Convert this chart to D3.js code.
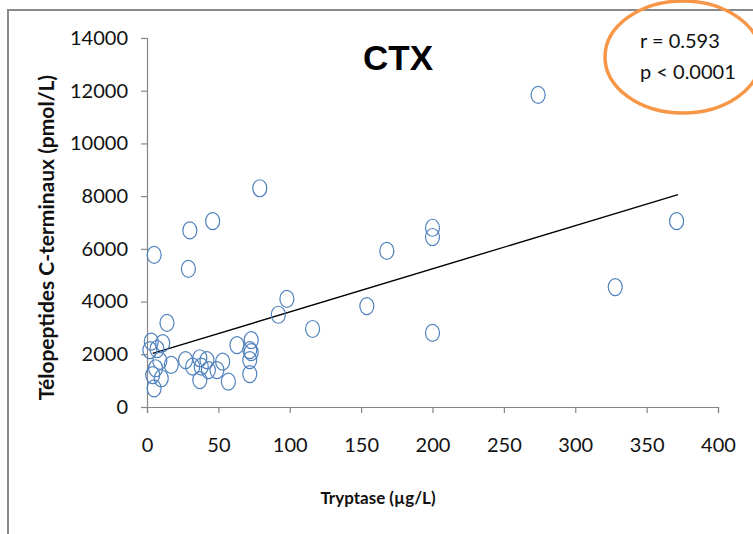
<!DOCTYPE html>
<html>
<head>
<meta charset="utf-8">
<script src="https://cdn.jsdelivr.net/npm/d3@7"></script>
<style>
  html, body { margin: 0; padding: 0; background: #fff; }
  svg { display: block; }
</style>
</head>
<body>
<svg id="chart" width="753" height="534"></svg>
<script>
// Tryptase (µg/L) vs C-terminal telopeptides (pmol/L)
const tryptase = [
  274, 79, 46, 30, 5, 29, 200, 200, 168, 371, 328, 98, 154, 200, 92, 116, 14,
  3, 11, 2, 7, 9, 17, 4, 10, 5, 6,
  27, 32, 37, 42, 38, 37, 43, 49, 53, 57, 63, 73, 72, 73, 72, 72
];
const ctx = [
  11840, 8300, 7050, 6700, 5770, 5240, 6800, 6450, 5920, 7050, 4550, 4100, 3830, 2810, 3500, 2960, 3190,
  2480, 2420, 2160, 2200, 1750, 1600, 1210, 1090, 710, 1470,
  1780, 1530, 1850, 1780, 1530, 1020, 1400, 1400, 1720, 960, 2350, 2540, 2160, 2080, 1780, 1250
];

// Linear trend line: intercept and slope, drawn across the tryptase range
const trendCoef = [1967, 16.38];
const trendX = [4, 372];

const xTicks = [0, 50, 100, 150, 200, 250, 300, 350, 400];
const yTicks = [0, 2000, 4000, 6000, 8000, 10000, 12000, 14000];

const statLines = ["r = 0.593", "p < 0.0001"];

const svg = d3.select("#chart");
const axisColor = "#868686";

// Outer frame (left and top edges)
svg.append("path")
  .attr("d", "M8,534 V10 H753")
  .attr("fill", "none")
  .attr("stroke", "#8a8a8a")
  .attr("stroke-width", 2);

const x = d3.scaleLinear().domain([0, 400]).range([147, 718]);
const y = d3.scaleLinear().domain([0, 14000]).range([407, 38]);

// Y axis
const yAxis = svg.append("g")
  .attr("transform", `translate(${x(0)},0)`)
  .call(d3.axisLeft(y).tickValues(yTicks).tickSize(6).tickPadding(13).tickFormat(d3.format("d")));
// X axis
const xAxis = svg.append("g")
  .attr("transform", `translate(0,${y(0)})`)
  .call(d3.axisBottom(x).tickValues(xTicks).tickSize(6).tickPadding(25).tickFormat(d3.format("d")));

[yAxis, xAxis].forEach(g => {
  g.select(".domain").attr("stroke", axisColor).attr("stroke-width", 1.2);
  g.selectAll(".tick line").attr("stroke", axisColor).attr("stroke-width", 1.2);
  g.selectAll(".tick text")
    .attr("fill", "#111")
    .style("font-family", "Lato, 'Open Sans', sans-serif")
    .style("font-size", "20px");
});

// Axis titles
svg.append("text")
  .attr("transform", `translate(54,${(y(0) + y(14000)) / 2 + 15}) rotate(-90)`)
  .attr("text-anchor", "middle")
  .style("font-family", "Lato, 'Open Sans', sans-serif")
  .style("font-weight", "bold")
  .style("font-size", "21px")
  .attr("fill", "#111")
  .text("Télopeptides C-terminaux (pmol/L)");

svg.append("text")
  .attr("x", 378)
  .attr("y", 504)
  .attr("text-anchor", "middle")
  .style("font-family", "Lato, 'Open Sans', sans-serif")
  .style("font-weight", "bold")
  .style("font-size", "17px")
  .attr("fill", "#111")
  .text("Tryptase (µg/L)");

// Title
svg.append("text")
  .attr("x", 398)
  .attr("y", 70)
  .attr("text-anchor", "middle")
  .style("font-family", "'Liberation Sans', Arial, sans-serif")
  .style("font-weight", "bold")
  .style("font-size", "35px")
  .attr("fill", "#000")
  .text("CTX");

// Trend line
const trend = d3.line().x(d => x(d)).y(d => y(trendCoef[0] + trendCoef[1] * d));
svg.append("path")
  .datum(trendX)
  .attr("d", trend)
  .attr("fill", "none")
  .attr("stroke", "#000")
  .attr("stroke-width", 1.4);

// Data points
svg.append("g")
  .selectAll("ellipse")
  .data(tryptase.map((t, i) => [t, ctx[i]]))
  .join("ellipse")
  .attr("cx", d => x(d[0]))
  .attr("cy", d => y(d[1]))
  .attr("rx", 7)
  .attr("ry", 8.5)
  .attr("fill", "none")
  .attr("stroke", "#4f81bd")
  .attr("stroke-width", 1.2);

// Correlation statistics with highlight ring
svg.append("ellipse")
  .attr("cx", 683)
  .attr("cy", 57)
  .attr("rx", 78)
  .attr("ry", 56)
  .attr("fill", "none")
  .attr("stroke", "#f79646")
  .attr("stroke-width", 3.5);

svg.append("g")
  .selectAll("text")
  .data(statLines)
  .join("text")
  .attr("x", 640)
  .attr("y", (d, i) => 48 + i * 31)
  .style("font-family", "Lato, 'Open Sans', sans-serif")
  .style("font-size", "20px")
  .attr("fill", "#111")
  .text(d => d);
</script>
</body>
</html>
